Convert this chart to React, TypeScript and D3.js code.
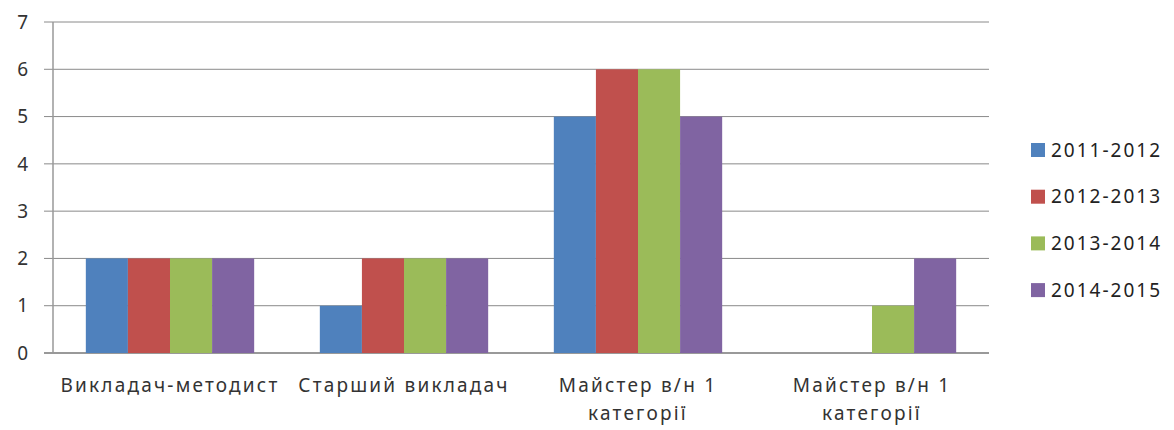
import React from "react";
import * as d3 from "d3";

const categories = ["Викладач-методист", "Старший викладач", "Майстер в/н 1 категорії", "Майстер в/н 1 категорії "];
const categoryLines = [["Викладач-методист"], ["Старший викладач"], ["Майстер в/н 1", "категорії"], ["Майстер в/н 1", "категорії"]];
const seriesNames = ["2011-2012", "2012-2013", "2013-2014", "2014-2015"];
const seriesColors = ["#4F81BD", "#C0504D", "#9BBB59", "#8064A2"];
const values2011 = [2, 1, 5, 0];
const values2012 = [2, 2, 6, 0];
const values2013 = [2, 2, 6, 1];
const values2014 = [2, 2, 5, 2];
const yTicks = [0, 1, 2, 3, 4, 5, 6, 7];

const App = () => {
  const width = 1174;
  const height = 430;
  const margin = { top: 22, right: 185, bottom: 77, left: 53 };
  const series = [values2011, values2012, values2013, values2014];

  const xScale = d3.scaleBand<string>()
    .domain(categories)
    .range([margin.left, width - margin.right]);
  const inner = d3.scaleBand<string>()
    .domain(seriesNames)
    .range([0, xScale.bandwidth()])
    .paddingInner(0)
    .paddingOuter(0.78);
  const yScale = d3.scaleLinear().domain([0, 7]).range([height - margin.bottom, margin.top]);

  const font = "'Noto Sans', sans-serif";

  return (
    <svg width={width} height={height} style={{ position: "absolute", left: 0, top: 0, background: "#fff" }}>
      {yTicks.map((t) => (
        <g key={t}>
          <line x1={margin.left - 9} x2={width - margin.right} y1={yScale(t)} y2={yScale(t)}
            stroke={t === 0 ? "#999" : "#8a8a8a"} strokeWidth={t === 0 ? 2 : 1} />
          <text x={28} y={yScale(t)} dy="0.35em" textAnchor="end" fontFamily={font} fontSize={19} fill="#333">{t}</text>
        </g>
      ))}
      <line x1={margin.left} x2={margin.left} y1={margin.top} y2={yScale(0)} stroke="#999" strokeWidth={1.5} />
      {series.map((vals, si) => (
        <g key={si}>
          {categories.map((c, ci) => vals[ci] > 0 && (
            <rect key={c}
              x={(xScale(c) ?? 0) + (inner(seriesNames[si]) ?? 0)}
              y={yScale(vals[ci])}
              width={inner.bandwidth()}
              height={yScale(0) - yScale(vals[ci])}
              fill={seriesColors[si]} />
          ))}
        </g>
      ))}
      {categories.map((c, ci) => (
        <text key={c} x={(xScale(c) ?? 0) + xScale.bandwidth() / 2} y={392} textAnchor="middle"
          fontFamily={font} fontSize={19} letterSpacing={2.2} fill="#333">
          {categoryLines[ci].map((l, li) => (
            <tspan key={li} x={(xScale(c) ?? 0) + xScale.bandwidth() / 2} dy={li === 0 ? 0 : 28}>{l}</tspan>
          ))}
        </text>
      ))}
      {seriesNames.map((s, si) => (
        <g key={s} transform={`translate(1031, ${150 + si * 46.7})`}>
          <rect x={0} y={-7} width={14} height={14} fill={seriesColors[si]} />
          <text x={20} y={0} dy="0.35em" fontFamily={font} fontSize={19} letterSpacing={2} fill="#222">{s}</text>
        </g>
      ))}
    </svg>
  );
};

export default App;
